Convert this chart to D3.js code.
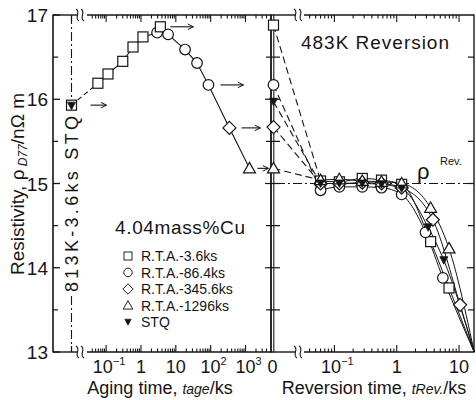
<!DOCTYPE html>
<html><head><meta charset="utf-8">
<script src="https://cdn.jsdelivr.net/npm/d3@7"></script>
<style>
body{margin:0;background:#fff}
svg{display:block}
text{font-family:"Liberation Sans",Arial,Helvetica,sans-serif;fill:#151515}
</style>
</head><body>
<svg id="c" width="476" height="400"></svg>
<script>
// ---------------- data ----------------
const specialCats = ["813K-3.6ks STQ", "0"];
const yMajorTicks = [13, 14, 15, 16, 17];
const yMinorTicks = [13.5, 14.5, 15.5, 16.5];
const agingTicks = [0.1, 1, 10, 100, 1000];
const agingTickBase = ["10", "1", "10", "10", "10"];
const agingTickExp = ["−1", "", "", "2", "3"];
const revTicks = [0.1, 1, 10];
const revTickBase = ["10", "1", "10"];
const revTickExp = ["−1", "", ""];

// aging curve (left panel)
const stqAgingValue = 15.93;
const agingTimes  = [0.058, 0.113, 0.30, 0.59, 1.14, 2.9, 3.6, 6.0, 18.4, 40.6, 86.4, 345.6, 1296];
const agingValues = [16.19, 16.30, 16.45, 16.62, 16.74, 16.79, 16.86, 16.77, 16.59, 16.43, 16.17, 15.66, 15.18];
const agingMarks  = ["square","square","square","square","square","circle","square","circle","circle","circle","circle","diamond","triangle"];

// legend
const seriesNames = ["R.T.A.-3.6ks", "R.T.A.-86.4ks", "R.T.A.-345.6ks", "R.T.A.-1296ks", "STQ"];
const seriesMarks = ["square", "circle", "diamond", "triangle", "stq"];

// reversion (right panel): value at t=0 and then over reversion time
const revZeroValues = [16.88, 16.17, 15.67, 15.18, 15.97];
const revTimesSquare   = [0.06, 0.12, 0.28, 0.57, 1.2, 3.5, 6.9];
const revSquare        = [15.03, 15.02, 15.06, 15.04, 14.99, 14.31, 13.76];
const revTimesCircle   = [0.06, 0.12, 0.28, 0.57, 1.2, 2.9, 5.5];
const revCircle        = [14.92, 14.96, 14.96, 14.95, 14.87, 14.42, 13.88];
const revTimesDiamond  = [0.06, 0.12, 0.28, 0.57, 1.2, 3.8, 10.4];
const revDiamond       = [15.00, 15.00, 15.01, 15.00, 14.95, 14.57, 13.56];
const revTimesTriangle = [0.06, 0.12, 0.28, 0.57, 1.2, 3.5, 6.9];
const revTriangle      = [15.04, 15.05, 15.03, 15.02, 15.00, 14.71, 14.23];
const revTimesStq      = [0.06, 0.12, 0.28, 0.57, 1.2, 3.2, 5.7];
const revStq           = [15.00, 15.00, 15.00, 14.99, 14.94, 14.48, 14.09];
const curveEndTime = 17.5;
const curveEndValue = 13.0;
const rhoRev = 15.0;

(function () {
// ---------------- scales ----------------
const svg = d3.select("#c");
const T0 = 15, B0 = 352, L = 53, R = 474, D = 272;
const y = d3.scaleLinear().domain([13, 17]).range([B0, T0]);
const xAge = d3.scaleLog().domain([Math.pow(10, -1.75), Math.pow(10, 3.76)]).range([80, D]);
const xRev = d3.scaleLog().domain([Math.pow(10, -1.6), Math.pow(10, 1.24)]).range([297, R]);
const xSpecial = d3.scaleOrdinal().domain(specialCats).range([71.5, 273.5]);
const ink = "#151515";

// ---------------- frame / axes ----------------
const g = svg.append("g");
function ln(x1, y1, x2, y2, w, dash) {
  const l = g.append("line").attr("x1", x1).attr("y1", y1).attr("x2", x2).attr("y2", y2)
    .attr("stroke", ink).attr("stroke-width", w || 1.3);
  if (dash) l.attr("stroke-dasharray", dash);
  return l;
}
ln(L, T0 - 0.6, L, B0 + 0.6, 1.6);
ln(R, T0 - 0.6, R, B0 + 0.6, 1.4);
ln(D - 1.0, T0 - 0.6, D - 1.0, B0 + 0.6, 1.8);
ln(D + 1.8, T0 - 0.6, D + 1.8, B0 + 0.6, 1.1);
[T0, B0].forEach(yy => {
  ln(L, yy, 77, yy, 1.4);
  ln(87, yy, D, yy, 1.4);
  ln(D, yy, 295, yy, 1.4);
  ln(304, yy, R, yy, 1.4);
  [77.5, 82.5, 295.5, 300.5].forEach(bx => {
    g.append("path")
      .attr("d", `M${bx - 1.5},${yy - 6} C${bx + 4},${yy - 3} ${bx - 4},${yy + 3} ${bx + 1.5},${yy + 6}`)
      .attr("fill", "none").attr("stroke", ink).attr("stroke-width", 1.1);
  });
});

function logTicks(scale, hiPix, loPix) {
  const out = [];
  for (let e = -3; e <= 4; e++) for (let m = 1; m <= 9; m++) {
    const v = m * Math.pow(10, e);
    const px = scale(v);
    if (px > loPix && px < hiPix) out.push({v, px, major: m === 1});
  }
  return out;
}
const ageT = logTicks(xAge, D - 3, 89);
const revT = logTicks(xRev, R - 2, 306);
[...ageT, ...revT].forEach(t => {
  const len = t.major ? 7 : 3.5;
  ln(t.px, T0, t.px, T0 + len, 1.1);
  ln(t.px, B0, t.px, B0 - len, 1.1);
});
ln(xSpecial(specialCats[0]), T0, xSpecial(specialCats[0]), T0 + 6, 1.2);
ln(xSpecial(specialCats[0]), B0, xSpecial(specialCats[0]), B0 - 6, 1.2);

yMajorTicks.forEach(v => {
  ln(L, y(v), L + 7, y(v), 1.3);
  if (v > 13 && v < 17) { ln(D - 7, y(v), D + 8, y(v), 1.2); ln(R - 7, y(v), R, y(v), 1.2); }
  g.append("text").attr("x", 48).attr("y", y(v) + 7).attr("text-anchor", "end")
    .attr("font-size", 19).text(v);
});
yMinorTicks.forEach(v => {
  ln(L, y(v), L + 5, y(v), 1.2);
  ln(D - 6, y(v), D + 8, y(v), 1.2);
  ln(R - 6, y(v), R, y(v), 1.2);
});

function tickLabel(px, base, exp) {
  const t = g.append("text").attr("y", 373).attr("font-size", 18).attr("text-anchor", "middle").attr("x", px);
  t.append("tspan").text(base);
  if (exp) t.append("tspan").attr("font-size", 11).attr("dy", -8).text(exp);
}
agingTicks.forEach((v, i) => tickLabel(xAge(v) + (agingTickExp[i] ? 3 : 0), agingTickBase[i], agingTickExp[i]));
revTicks.forEach((v, i) => tickLabel(xRev(v) + (revTickExp[i] ? 3 : 0), revTickBase[i], revTickExp[i]));
tickLabel(xSpecial("0") - 1, "0", "");

const t1 = g.append("text").attr("x", 160).attr("y", 394).attr("font-size", 18).attr("text-anchor", "middle");
t1.append("tspan").text("Aging time, ");
t1.append("tspan").attr("font-style", "italic").attr("font-size", 14).text("tage");
t1.append("tspan").text("/ks");
const t2 = g.append("text").attr("x", 374).attr("y", 394).attr("font-size", 18).attr("text-anchor", "middle");
t2.append("tspan").text("Reversion time, ");
t2.append("tspan").attr("font-style", "italic").attr("font-size", 14).text("tRev.");
t2.append("tspan").text("/ks");
const t3 = g.append("text").attr("transform", "translate(24,184) rotate(-90)").attr("font-size", 19).attr("text-anchor", "middle");
t3.append("tspan").text("Resistivity, ρ");
t3.append("tspan").attr("font-style", "italic").attr("font-size", 12).attr("dy", 3).text(" D77");
t3.append("tspan").attr("dy", -3).text("/nΩ m");

// ---------------- reference lines ----------------
const sx = xSpecial(specialCats[0]);
ln(sx, T0, sx, 112, 1.1, "9,3,2,3");
ln(sx, 296, sx, B0, 1.1, "9,3,2,3");
g.append("text").attr("transform", `translate(${sx},292) rotate(-90)`).attr("dy", "0.36em")
  .attr("font-size", 18).attr("textLength", 176).attr("lengthAdjust", "spacing").text("813K-3.6ks STQ");
ln(D + 4, y(rhoRev), R, y(rhoRev), 1.1, "9,3,2,3");
g.append("text").attr("x", 417).attr("y", 179).attr("font-size", 22).text("ρ");
g.append("text").attr("x", 440).attr("y", 165).attr("font-size", 11).text("Rev.");

// ---------------- markers ----------------
function marker(sel, kind, cx, cy) {
  if (kind === "square") sel.append("rect").attr("x", cx - 5).attr("y", cy - 5).attr("width", 10).attr("height", 10)
    .attr("fill", "#fff").attr("stroke", ink).attr("stroke-width", 1.2);
  else if (kind === "circle") sel.append("circle").attr("cx", cx).attr("cy", cy).attr("r", 5.3)
    .attr("fill", "#fff").attr("stroke", ink).attr("stroke-width", 1.2);
  else if (kind === "diamond") sel.append("path").attr("d", `M${cx},${cy - 6.5} L${cx + 6.5},${cy} L${cx},${cy + 6.5} L${cx - 6.5},${cy} Z`)
    .attr("fill", "#fff").attr("stroke", ink).attr("stroke-width", 1.2);
  else if (kind === "triangle") sel.append("path").attr("d", `M${cx},${cy - 6} L${cx + 6},${cy + 4.5} L${cx - 6},${cy + 4.5} Z`)
    .attr("fill", "#fff").attr("stroke", ink).attr("stroke-width", 1.2);
  else if (kind === "stq") sel.append("path").attr("d", `M${cx - 4},${cy - 3.5} L${cx + 4},${cy - 3.5} L${cx},${cy + 4} Z`)
    .attr("fill", ink).attr("stroke", ink).attr("stroke-width", 0.8);
}

// ---------------- left panel: aging ----------------
const agePts = agingTimes.map((t, i) => [xAge(t), y(agingValues[i])]);
g.append("line").attr("x1", sx).attr("y1", y(stqAgingValue)).attr("x2", agePts[0][0]).attr("y2", agePts[0][1])
  .attr("stroke", ink).attr("stroke-width", 1.1).attr("stroke-dasharray", "5,3");
g.append("path").attr("d", d3.line()(agePts)).attr("fill", "none").attr("stroke", ink).attr("stroke-width", 1.1);
agePts.forEach((p, i) => marker(g, agingMarks[i], p[0], p[1]));
marker(g, "square", sx, y(stqAgingValue));
marker(g, "stq", sx, y(stqAgingValue) + 0.5);

svg.append("defs").append("marker").attr("id", "ah").attr("viewBox", "0 0 10 10").attr("refX", 9).attr("refY", 5)
  .attr("markerWidth", 7).attr("markerHeight", 7).attr("markerUnits", "userSpaceOnUse").attr("orient", "auto")
  .append("path").attr("d", "M1,1 L9,5 L1,9").attr("fill", "none").attr("stroke", ink).attr("stroke-width", 1.4);
const arrowFrom = [[sx, stqAgingValue, 19, 35], [xAge(3.6), 16.86, 10, 33], [xAge(86.4), 16.17, 12, 35], [xAge(345.6), 15.66, 12, 31], [xAge(1296), 15.18, 8, 19]];
arrowFrom.forEach(a => {
  g.append("line").attr("x1", a[0] + a[2]).attr("x2", a[0] + a[3]).attr("y1", y(a[1])).attr("y2", y(a[1]))
    .attr("stroke", ink).attr("stroke-width", 1.1).attr("marker-end", "url(#ah)");
});

// ---------------- right panel: reversion ----------------
const revSeries = [
  {times: revTimesSquare, vals: revSquare, mark: "square"},
  {times: revTimesCircle, vals: revCircle, mark: "circle"},
  {times: revTimesDiamond, vals: revDiamond, mark: "diamond"},
  {times: revTimesTriangle, vals: revTriangle, mark: "triangle"},
  {times: revTimesStq, vals: revStq, mark: "stq"}
];
const x0 = xSpecial("0");
const curve = d3.line().curve(d3.curveMonotoneX);
revSeries.forEach((s, i) => {
  const pts = s.times.map((t, j) => [xRev(t), y(s.vals[j])]);
  g.append("line").attr("x1", x0).attr("y1", y(revZeroValues[i])).attr("x2", pts[0][0]).attr("y2", pts[0][1])
    .attr("stroke", ink).attr("stroke-width", 1.1).attr("stroke-dasharray", "7,4");
  const all = pts.concat([[xRev(curveEndTime), y(curveEndValue)]]);
  g.append("path").attr("d", curve(all)).attr("fill", "none").attr("stroke", ink).attr("stroke-width", 1.0);
});
revSeries.forEach((s, i) => {
  s.times.forEach((t, j) => marker(g, s.mark, xRev(t), y(s.vals[j])));
  marker(g, s.mark, x0, y(revZeroValues[i]));
});

// ---------------- titles / legend ----------------
g.append("text").attr("x", 301).attr("y", 49).attr("font-size", 19).attr("textLength", 148).attr("lengthAdjust", "spacing").text("483K Reversion");
g.append("text").attr("x", 115).attr("y", 234).attr("font-size", 19).attr("textLength", 130).attr("lengthAdjust", "spacing").text("4.04mass%Cu");
const legY = d3.scalePoint().domain(seriesNames).range([256, 322]);
seriesNames.forEach((n, i) => {
  const cy = legY(n);
  const lg = g.append("g").attr("transform", `translate(128,${cy}) scale(0.8) translate(-128,${-cy})`);
  marker(lg, seriesMarks[i], 128, cy);
  g.append("text").attr("x", 141).attr("y", cy + 5).attr("font-size", 14).text(n);
});
})();
</script>
</body></html>
